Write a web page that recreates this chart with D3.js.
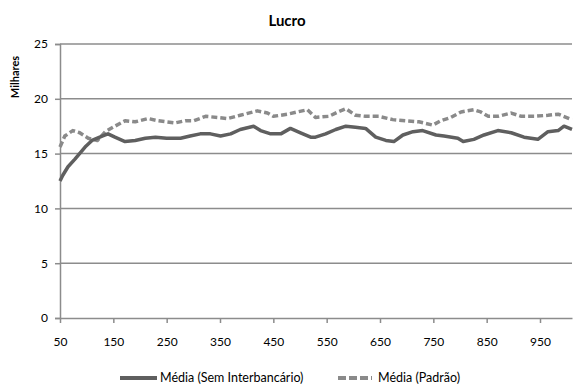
<!DOCTYPE html>
<html>
<head>
<meta charset="utf-8">
<script src="https://cdn.jsdelivr.net/npm/d3@7"></script>
<style>
  body { margin: 0; background: #fff; }
  svg { font-family: Lato, "Open Sans", sans-serif; }
</style>
</head>
<body>
<svg id="chart" width="573" height="389"></svg>
<script>
// values (thousands)
var semX = [50, 55, 65, 78, 97, 110, 129, 140, 153, 172, 191, 210, 229, 250, 276, 294, 313, 332, 351, 370,
    388, 413, 426, 445, 464, 482, 501, 520, 529, 548, 567, 586, 604, 623, 642, 661, 676, 693, 712, 730,
    755, 770, 796, 806, 826, 845, 871, 896, 920, 946, 965, 984, 995, 1010];
var semY = [12.5, 13.0, 13.8, 14.5, 15.6, 16.2, 16.6, 16.8, 16.5, 16.1, 16.2, 16.4, 16.5, 16.4, 16.4, 16.6, 16.8, 16.8, 16.6, 16.8,
    17.2, 17.5, 17.1, 16.8, 16.8, 17.3, 16.9, 16.5, 16.5, 16.8, 17.2, 17.5, 17.4, 17.3, 16.5, 16.2, 16.1, 16.7, 17.0, 17.1,
    16.7, 16.6, 16.4, 16.1, 16.3, 16.7, 17.1, 16.9, 16.5, 16.3, 17.0, 17.1, 17.5, 17.2];

var padX = [50, 59, 74, 87, 103, 120, 135, 153, 172, 191, 215, 234, 266, 285, 301, 323, 345, 364, 388, 420,
    439, 450, 477, 495, 514, 529, 554, 571, 586, 604, 623, 648, 674, 698, 723, 749, 764, 783, 802, 826,
    839, 853, 871, 896, 915, 939, 965, 984, 1010];
var padY = [15.6, 16.6, 17.1, 16.9, 16.4, 16.2, 17.0, 17.5, 18.0, 17.9, 18.2, 18.0, 17.8, 18.0, 18.0, 18.4, 18.3, 18.2, 18.5, 18.9,
    18.7, 18.4, 18.6, 18.8, 19.0, 18.3, 18.4, 18.8, 19.1, 18.5, 18.4, 18.4, 18.1, 18.0, 17.9, 17.6, 18.0, 18.3, 18.8, 19.0,
    18.8, 18.4, 18.4, 18.7, 18.4, 18.4, 18.5, 18.6, 18.1];

var xTicks = [50, 150, 250, 350, 450, 550, 650, 750, 850, 950];
var yTicks = [0, 5, 10, 15, 20, 25];
var seriesNames = ['Média (Sem Interbancário)', 'Média (Padrão)'];

var margin = { top: 44, right: 1, bottom: 71, left: 60 };
var width = 573 - margin.left - margin.right,
    height = 389 - margin.top - margin.bottom;

var svg = d3.select('#chart');

var x = d3.scaleLinear().domain([50, 1010]).range([0, width]);
var y = d3.scaleLinear().domain([0, 25]).range([height, 0]);

var g = svg.append('g')
    .attr('transform', 'translate(' + margin.left + ',' + margin.top + ')');

// gridlines
g.selectAll('line.grid').data(yTicks.slice(1))
    .enter().append('line')
    .attr('class', 'grid')
    .attr('x1', 0).attr('x2', width)
    .attr('y1', function (d) { return y(d); })
    .attr('y2', function (d) { return y(d); })
    .style('stroke', '#8c8c8c')
    .style('stroke-width', 1.5);

// y axis
var yAxis = g.append('g').call(d3.axisLeft(y).tickValues(yTicks).tickSize(5).tickPadding(7));
yAxis.select('.domain').style('stroke', '#8c8c8c').style('stroke-width', 1.5);
yAxis.selectAll('line').style('stroke', '#8c8c8c').style('stroke-width', 1.5);
yAxis.selectAll('text').style('font-size', '12px').style('fill', '#000')
    .style('font-family', 'Lato, "Open Sans", sans-serif');

// x axis
var xAxis = g.append('g')
    .attr('transform', 'translate(0,' + height + ')')
    .call(d3.axisBottom(x).tickValues(xTicks).tickSize(5).tickPadding(14).tickSizeOuter(0));
xAxis.select('.domain').style('stroke', '#8c8c8c').style('stroke-width', 1.5);
xAxis.selectAll('line').style('stroke', '#8c8c8c').style('stroke-width', 1.5);
xAxis.selectAll('text').style('font-size', '12px').style('fill', '#000')
    .style('font-family', 'Lato, "Open Sans", sans-serif');

var line = d3.line()
    .x(function (d) { return x(d[0]); })
    .y(function (d) { return y(d[1]); });

g.append('path')
    .datum(d3.zip(padX, padY))
    .attr('d', line)
    .style('fill', 'none')
    .style('stroke', '#8a8a8a')
    .style('stroke-width', 3.5)
    .style('stroke-dasharray', '6,3')
    .style('stroke-linejoin', 'round');

g.append('path')
    .datum(d3.zip(semX, semY))
    .attr('d', line)
    .style('fill', 'none')
    .style('stroke', '#5f5f5f')
    .style('stroke-width', 3.5)
    .style('stroke-linejoin', 'round');

// title
svg.append('text')
    .attr('x', 287).attr('y', 26)
    .attr('text-anchor', 'middle')
    .style('font-size', '15px')
    .style('font-weight', 'bold')
    .text('Lucro');

// y label
svg.append('text')
    .attr('transform', 'translate(19,77) rotate(-90)')
    .attr('text-anchor', 'middle')
    .style('font-size', '11px')
    .style('font-weight', 'bold')
    .text('Milhares');

// legend
var legend = svg.append('g');
legend.append('line')
    .attr('x1', 120).attr('x2', 157).attr('y1', 378).attr('y2', 378)
    .style('stroke', '#5f5f5f').style('stroke-width', 4);
legend.append('text')
    .attr('x', 160).attr('y', 382)
    .style('font-size', '12.5px')
    .text(seriesNames[0]);
legend.append('line')
    .attr('x1', 338).attr('x2', 372).attr('y1', 378).attr('y2', 378)
    .style('stroke', '#8a8a8a').style('stroke-width', 4)
    .style('stroke-dasharray', '8,3');
legend.append('text')
    .attr('x', 378).attr('y', 382)
    .style('font-size', '12.5px')
    .text(seriesNames[1]);
</script>
</body>
</html>
